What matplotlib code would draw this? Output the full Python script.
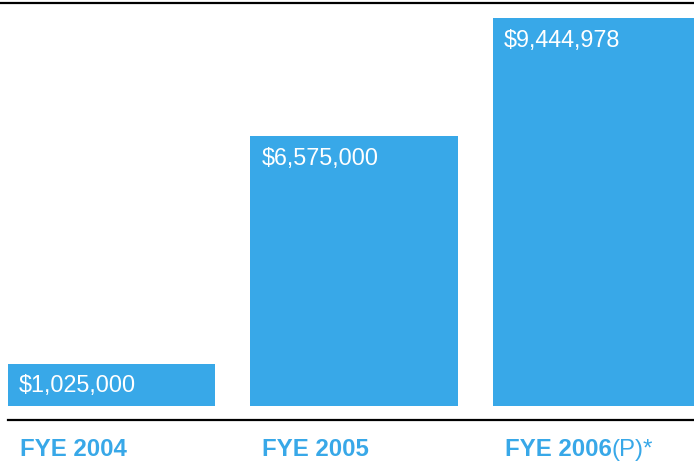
import matplotlib
matplotlib.use("Agg")
import matplotlib.pyplot as plt
from matplotlib.lines import Line2D

plt.rcParams['font.family'] = ['Liberation Sans', 'DejaVu Sans']

# data
years = ["FYE 2004", "FYE 2005", "FYE 2006"]
suffixes = ["", "", "(P)*"]
amounts = [1025000, 6575000, 9444978]

blue = "#38a8e8"
W, H = 694, 465

fig = plt.figure(figsize=(W / 100, H / 100), dpi=100)
# axes: baseline at y=406px from top, top at y=3px
ax = fig.add_axes([0, (H - 406) / H, 1, (406 - 3) / H])
ax.set_xlim(-0.46, 2.402)
ax.set_ylim(0, 9.82e6)
ax.axis("off")

x = range(len(amounts))
bars = ax.bar(x, amounts, width=0.854, color=blue, align="center")

for b, v in zip(bars, amounts):
    ax.annotate(f"${v:,.0f}", (b.get_x(), b.get_height()),
                xytext=(8, -20.5), textcoords="offset points",
                ha="left", va="baseline", color="white", fontsize=16.8)

# rules
fig.add_artist(Line2D([0, 1], [1 - 3 / H, 1 - 3 / H], color="black", lw=1.6,
                      transform=fig.transFigure))
fig.add_artist(Line2D([8 / W, 1], [1 - 420 / H, 1 - 420 / H], color="black", lw=1.6,
                      transform=fig.transFigure))

# category labels under the bars
fig.canvas.draw()
renderer = fig.canvas.get_renderer()
for b, yr, suf in zip(bars, years, suffixes):
    xpix = ax.transData.transform((b.get_x(), 0))[0] + 12
    t = fig.text(xpix / W, 1 - 456 / H, yr, color=blue, fontsize=17.3,
                 fontweight="bold", ha="left", va="baseline")
    if suf:
        ext = t.get_window_extent(renderer)
        fig.text(ext.x1 / W, 1 - 456 / H, suf, color=blue, fontsize=17.3,
                 ha="left", va="baseline")

fig.savefig("out.png", dpi=100)
